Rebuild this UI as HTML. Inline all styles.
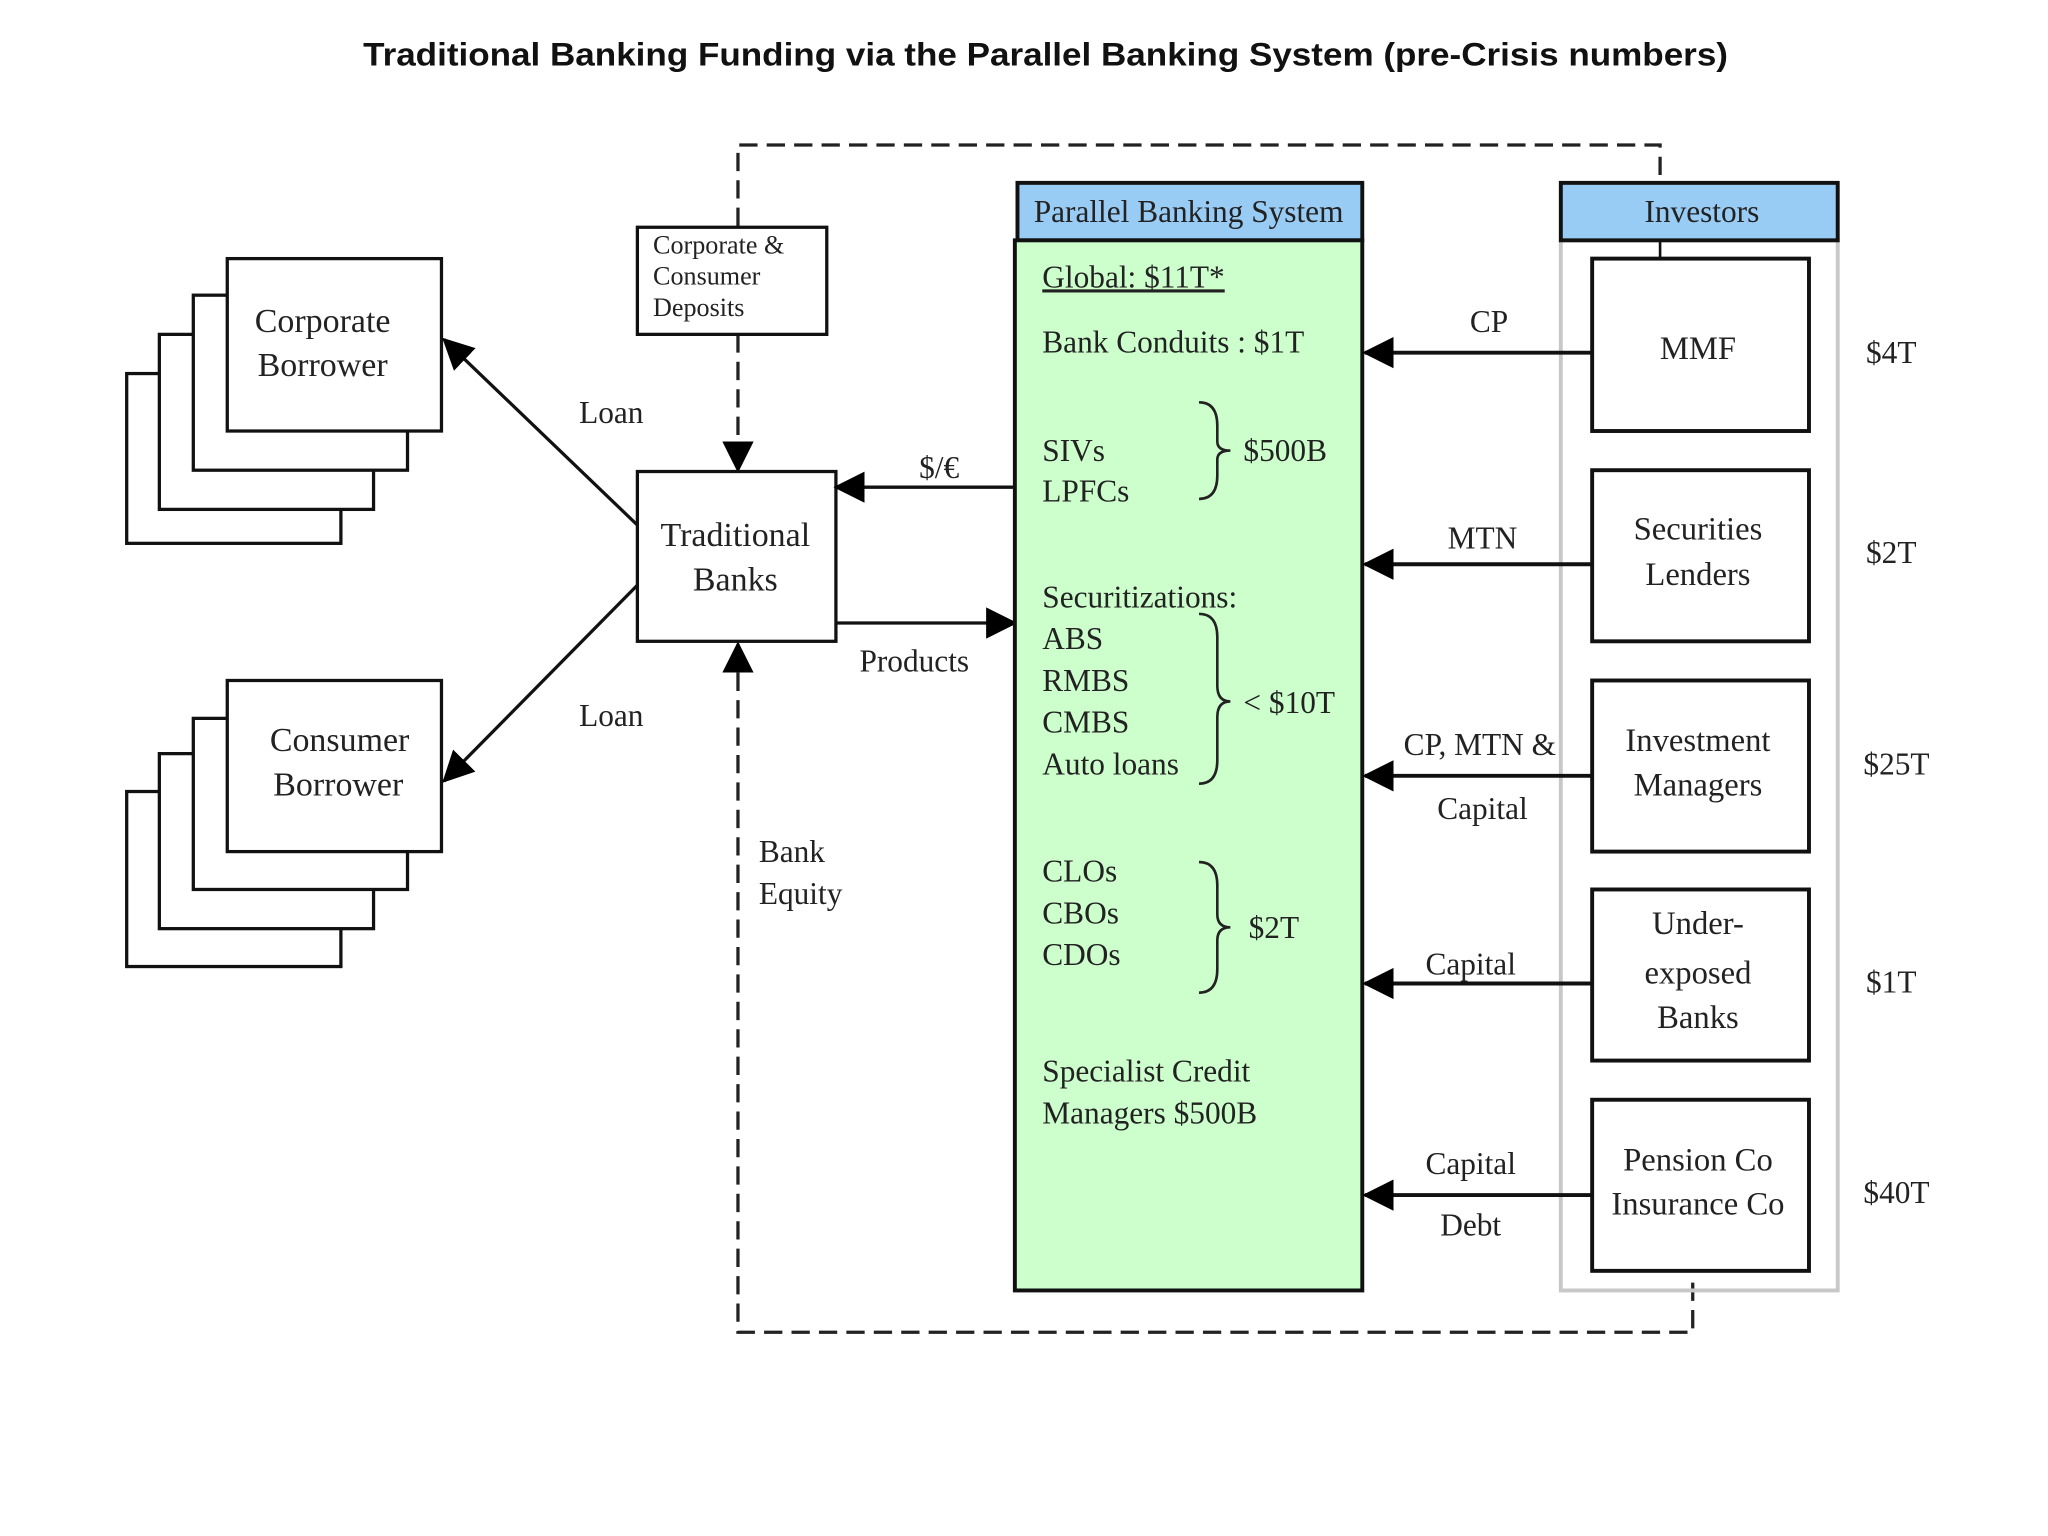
<!DOCTYPE html>
<html><head><meta charset="utf-8"><style>
html,body{margin:0;padding:0;background:#fff;}
svg{display:block;}
text{font-family:"Liberation Serif",serif;fill:#222;}
</style></head><body>
<svg width="2048" height="1536" viewBox="0 0 1568 1176" preserveAspectRatio="none" xmlns="http://www.w3.org/2000/svg">
<defs>
<marker id="ah2" markerWidth="24" markerHeight="24" refX="22" refY="12" orient="auto" markerUnits="userSpaceOnUse" viewBox="0 0 24 24">
<path d="M0,0 L24,12 L0,24 z" fill="#000"/></marker>
</defs>
<text x="278" y="50" textLength="1045" lengthAdjust="spacingAndGlyphs" style="font-family:'Liberation Sans',sans-serif;font-weight:bold;font-size:25px;fill:#111">Traditional Banking Funding via the Parallel Banking System (pre-Crisis numbers)</text>

<g stroke="#222" stroke-width="2.5" fill="none" stroke-dasharray="14,7">
<path d="M565,173 L565,111 L1271,111 L1271,140"/>
<path d="M565,256 L565,340"/>
<path d="M565,515 L565,1020 L1296,1020 L1296,975"/>
</g>
<path d="M565,340 L565,360" stroke="#222" stroke-width="2.5" marker-end="url(#ah2)"/>
<path d="M565,515 L565,493" stroke="#222" stroke-width="2.5" marker-end="url(#ah2)"/>

<rect x="488" y="174" width="145" height="82" fill="#fff" stroke="#111" stroke-width="2.5"/>
<text x="500" y="194" font-size="20">Corporate &amp;</text>
<text x="500" y="218" font-size="20">Consumer</text>
<text x="500" y="242" font-size="20">Deposits</text>

<rect x="488" y="361" width="152" height="130" fill="#fff" stroke="#111" stroke-width="2.5"/>
<text x="563" y="418" font-size="26" text-anchor="middle">Traditional</text>
<text x="563" y="452" font-size="26" text-anchor="middle">Banks</text>

<g fill="#fff" stroke="#111" stroke-width="2.5">
<rect x="97" y="286" width="164" height="130"/>
<rect x="122" y="256" width="164" height="134"/>
<rect x="148" y="226" width="164" height="134"/>
<rect x="174" y="198" width="164" height="132"/>
<rect x="97" y="606" width="164" height="134"/>
<rect x="122" y="577" width="164" height="134"/>
<rect x="148" y="550" width="164" height="131"/>
<rect x="174" y="521" width="164" height="131"/>
</g>
<text x="247" y="254" font-size="26" text-anchor="middle">Corporate</text>
<text x="247" y="288" font-size="26" text-anchor="middle">Borrower</text>
<text x="260" y="575" font-size="26" text-anchor="middle">Consumer</text>
<text x="259" y="609" font-size="26" text-anchor="middle">Borrower</text>

<g stroke="#111" stroke-width="2.5">
<path d="M488,402 L340,260" marker-end="url(#ah2)"/>
<path d="M488,448 L340,598" marker-end="url(#ah2)"/>
<path d="M777,373 L640,373" marker-end="url(#ah2)"/>
<path d="M640,477 L777,477" marker-end="url(#ah2)"/>
</g>
<g font-size="24">
<text x="468" y="324" text-anchor="middle">Loan</text>
<text x="468" y="556" text-anchor="middle">Loan</text>
<text x="719" y="366" text-anchor="middle">$/€</text>
<text x="700" y="514" text-anchor="middle">Products</text>
<text x="581" y="660">Bank</text>
<text x="581" y="692">Equity</text>
</g>

<rect x="779" y="140" width="264" height="44" fill="#99ccf5" stroke="#111" stroke-width="3"/>
<text x="910" y="170" font-size="24" text-anchor="middle">Parallel Banking System</text>
<rect x="777" y="184" width="266" height="804" fill="#ccffcc" stroke="#111" stroke-width="3"/>
<g font-size="24">
<text x="798" y="220" text-decoration="underline">Global: $11T*</text>
<text x="798" y="270">Bank  Conduits : $1T</text>
<text x="798" y="353">SIVs</text>
<text x="798" y="384">LPFCs</text>
<text x="952" y="353">$500B</text>
<text x="798" y="465">Securitizations:</text>
<text x="798" y="497">ABS</text>
<text x="798" y="529">RMBS</text>
<text x="798" y="561">CMBS</text>
<text x="798" y="593">Auto loans</text>
<text x="952" y="546">&lt; $10T</text>
<text x="798" y="675">CLOs</text>
<text x="798" y="707">CBOs</text>
<text x="798" y="739">CDOs</text>
<text x="956" y="718">$2T</text>
<text x="798" y="828">Specialist Credit</text>
<text x="798" y="860">Managers  $500B</text>
</g>
<g stroke="#222" stroke-width="2" fill="none">
<path d="M918,308 Q932,308 932,326 L932,338 Q932,345 942,345 Q932,345 932,352 L932,364 Q932,382 918,382"/>
<path d="M918,470 Q932,470 932,488 L932,525 Q932,537 942,537 Q932,537 932,549 L932,582 Q932,600 918,600"/>
<path d="M918,660 Q932,660 932,678 L932,700 Q932,710 942,710 Q932,710 932,720 L932,742 Q932,760 918,760"/>
</g>

<rect x="1195" y="184" width="212" height="804" fill="none" stroke="#c8c8c8" stroke-width="3"/>
<rect x="1195" y="140" width="212" height="44" fill="#99ccf5" stroke="#111" stroke-width="3"/>
<text x="1303" y="170" font-size="24" text-anchor="middle">Investors</text>
<line x1="1271" y1="184" x2="1271" y2="198" stroke="#111" stroke-width="2"/>
<g fill="#fff" stroke="#111" stroke-width="3">
<rect x="1219" y="198" width="166" height="132"/>
<rect x="1219" y="360" width="166" height="131"/>
<rect x="1219" y="521" width="166" height="131"/>
<rect x="1219" y="681" width="166" height="131"/>
<rect x="1219" y="842" width="166" height="131"/>
</g>
<g font-size="25" text-anchor="middle">
<text x="1300" y="275">MMF</text>
<text x="1300" y="413">Securities</text>
<text x="1300" y="448">Lenders</text>
<text x="1300" y="575">Investment</text>
<text x="1300" y="609">Managers</text>
<text x="1300" y="715">Under-</text>
<text x="1300" y="753">exposed</text>
<text x="1300" y="787">Banks</text>
<text x="1300" y="896">Pension Co</text>
<text x="1300" y="930">Insurance Co</text>
</g>
<g stroke="#111" stroke-width="3">
<path d="M1219,270 L1045,270" marker-end="url(#ah2)"/>
<path d="M1219,432 L1045,432" marker-end="url(#ah2)"/>
<path d="M1219,594 L1045,594" marker-end="url(#ah2)"/>
<path d="M1219,753 L1045,753" marker-end="url(#ah2)"/>
<path d="M1219,915 L1045,915" marker-end="url(#ah2)"/>
</g>
<g font-size="24" text-anchor="middle">
<text x="1140" y="254">CP</text>
<text x="1135" y="420">MTN</text>
<text x="1133" y="578">CP, MTN &amp;</text>
<text x="1135" y="627">Capital</text>
<text x="1126" y="746">Capital</text>
<text x="1126" y="899">Capital</text>
<text x="1126" y="946">Debt</text>
<text x="1448" y="278">$4T</text>
<text x="1448" y="431">$2T</text>
<text x="1452" y="593">$25T</text>
<text x="1448" y="760">$1T</text>
<text x="1452" y="921">$40T</text>
</g>
</svg>
</body></html>
